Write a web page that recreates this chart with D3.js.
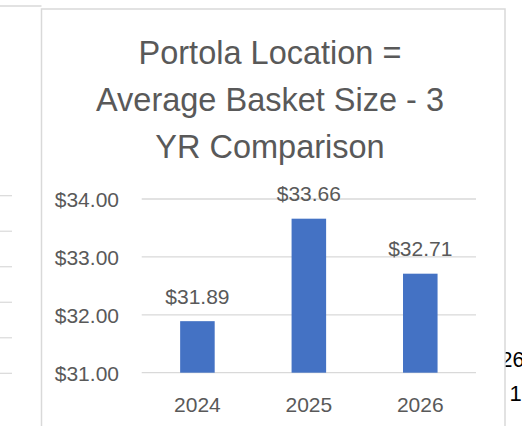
<!DOCTYPE html>
<html>
<head>
<meta charset="utf-8">
<script src="https://cdn.jsdelivr.net/npm/d3@7"></script>
<style>
  html, body { margin: 0; padding: 0; background: #fff; }
  svg { display: block; }
  text { font-family: "Liberation Sans", Arial, sans-serif; }
</style>
</head>
<body>
<svg id="chart" width="522" height="426"></svg>
<script>
// ---- data ----
const categories = ["2024", "2025", "2026"];
const values = [31.89, 33.66, 32.71];
const yTicks = [31, 32, 33, 34];
const titleLines = ["Portola Location =", "Average Basket Size - 3", "YR Comparison"];
// fragments of neighbouring charts visible at the edges
const leftStubRows = [0, 1, 2, 3, 4, 5];
const rightFragments = ["26", "1"];

const svg = d3.select("#chart");
const grey = "#595959";
const gridColor = "#d9d9d9";

// ---- background (neighbouring chart fragments) ----
const bg = svg.append("g");
bg.append("line").attr("x1", 0).attr("x2", 41.5).attr("y1", 6).attr("y2", 6)
  .attr("stroke", gridColor).attr("stroke-width", 1.5);
const stubY = d3.scaleLinear().domain([0, 5]).range([195.7, 373.3]);
bg.selectAll("line.stub").data(leftStubRows).enter().append("line")
  .attr("class", "stub")
  .attr("x1", 0).attr("x2", 12)
  .attr("y1", d => stubY(d)).attr("y2", d => stubY(d))
  .attr("stroke", gridColor).attr("stroke-width", 1.2);
bg.append("text").attr("x", 500.5).attr("y", 366.7).attr("font-size", 21.5)
  .attr("fill", "#000").text(rightFragments[0]);
bg.append("text").attr("x", 509.5).attr("y", 401).attr("font-size", 22)
  .attr("fill", "#000").text(rightFragments[1]);

// ---- main chart frame ----
svg.append("rect").attr("x", 41.5).attr("y", 9).attr("width", 463.5).attr("height", 440)
  .attr("fill", "#fff").attr("stroke", gridColor).attr("stroke-width", 1.5);

// ---- scales ----
const plotLeft = 141.7, plotRight = 476;
const x = d3.scaleBand().domain(categories).range([plotLeft, plotRight])
  .paddingInner(0.69).paddingOuter(0.345);
const y = d3.scaleLinear().domain([31, 34]).range([372.7, 199]);

// ---- gridlines ----
svg.append("g").selectAll("line").data(yTicks).enter().append("line")
  .attr("x1", plotLeft).attr("x2", plotRight)
  .attr("y1", d => y(d)).attr("y2", d => y(d))
  .attr("stroke", gridColor).attr("stroke-width", 1.3);

// ---- y axis labels ----
const fmt = d3.format("$.2f");
const yAxis = d3.axisLeft(y).tickValues(yTicks).tickFormat(fmt).tickSize(0).tickPadding(0);
const yg = svg.append("g").attr("transform", "translate(119,0)").call(yAxis);
yg.select(".domain").remove();
yg.selectAll("text").attr("font-size", 21).attr("fill", grey)
  .attr("font-family", "Liberation Sans, Arial, sans-serif").attr("dy", "0.36em");

// ---- x axis labels ----
const xAxis = d3.axisBottom(x).tickSize(0).tickPadding(0);
const xg = svg.append("g").attr("transform", "translate(0,411.7)").call(xAxis);
xg.select(".domain").remove();
xg.selectAll("text").attr("font-size", 21).attr("fill", grey)
  .attr("font-family", "Liberation Sans, Arial, sans-serif").attr("dy", 0).attr("y", 0);

// ---- bars ----
const data = categories.map((c, i) => ({ c, v: values[i] }));
svg.append("g").selectAll("rect").data(data).enter().append("rect")
  .attr("x", d => x(d.c)).attr("width", x.bandwidth())
  .attr("y", d => y(d.v)).attr("height", d => y(31) - y(d.v))
  .attr("fill", "#4472c4");

// ---- data labels ----
svg.append("g").selectAll("text").data(data).enter().append("text")
  .attr("x", d => x(d.c) + x.bandwidth() / 2)
  .attr("y", d => y(d.v) - 17.5)
  .attr("text-anchor", "middle").attr("font-size", 21).attr("fill", grey)
  .text(d => fmt(d.v));

// ---- title ----
svg.append("g").selectAll("text").data(titleLines).enter().append("text")
  .attr("x", 270).attr("y", (d, i) => 64.3 + i * 46.7)
  .attr("text-anchor", "middle").attr("font-size", 32.5).attr("fill", grey)
  .text(d => d);
</script>
</body>
</html>
